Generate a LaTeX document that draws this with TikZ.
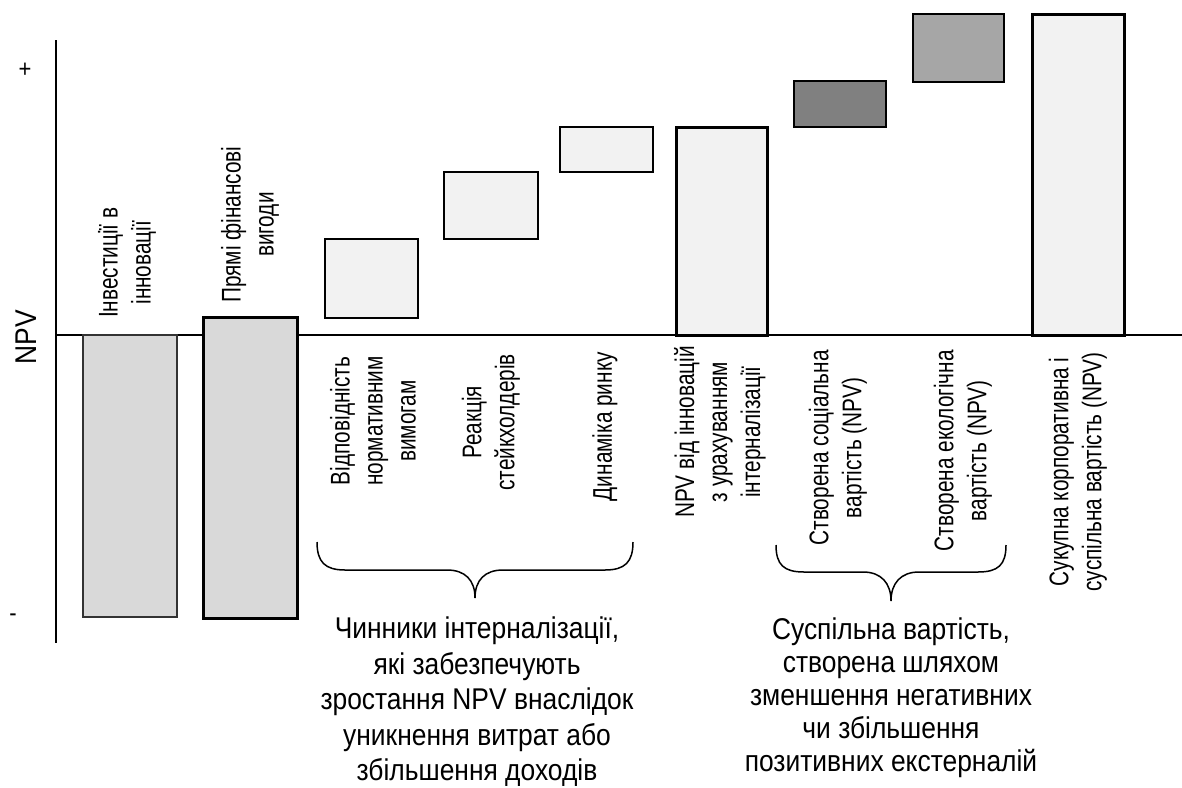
\documentclass[tikz,border=0pt]{standalone}
\usepackage{fontspec}
\setmainfont{Liberation Sans}
\newfontfamily\rotfont[FakeStretch=0.77]{Liberation Sans}
\newfontfamily\capfont[FakeStretch=0.88]{Liberation Sans}
\definecolor{barA}{HTML}{D9D9D9}
\definecolor{barB}{HTML}{F2F2F2}
\definecolor{barC}{HTML}{808080}
\definecolor{barD}{HTML}{A6A6A6}
\tikzset{
  bx/.style={draw=black, line width=1.5pt, inner sep=0pt, outer sep=0pt, anchor=north west},
  thk/.style={bx, line width=3pt},
  lbl/.style={rotate=90, align=center, inner sep=0pt, font=\rotfont\fontsize{27}{33}\selectfont},
  captext/.style={align=center, inner sep=0pt, anchor=north},
  axis/.style={line width=2pt},
  brace/.style={line width=1.5pt}
}
\begin{document}
\begin{tikzpicture}[x=1pt,y=1pt]
\useasboundingbox (0,0) rectangle (1182,-787);
% axes
\coordinate (ytop) at (56,-40);
\coordinate (ybot) at (56,-643);
\coordinate (x0) at (56,-335);
\coordinate (xend) at (1182,-335);
\draw[axis] (ytop) -- (ybot);
\draw[axis] (x0) -- (xend);
\node[font=\capfont\fontsize{25}{25}\selectfont] (plus) at (25,-70) {+};
\node[font=\capfont\fontsize{25}{25}\selectfont] (minus) at (13,-618) {-};
\node[rotate=90, font=\capfont\fontsize{30}{30}\selectfont] (npv) at (26,-337) {NPV};
% bars
\node[bx, line width=1.2pt, draw=black!80, fill=barA, minimum width=94pt, minimum height=282pt] (b1) at (83,-335) {};
\node[thk, fill=barA, minimum width=94pt, minimum height=301pt] (b2) at (203,-317) {};
\node[bx, fill=barB, minimum width=93pt, minimum height=79pt] (b3) at (325,-239) {};
\node[bx, fill=barB, minimum width=94pt, minimum height=67pt] (b4) at (444,-172) {};
\node[bx, fill=barB, minimum width=93pt, minimum height=45pt] (b5) at (560,-127) {};
\node[thk, fill=barB, minimum width=91pt, minimum height=208pt] (b6) at (676,-127) {};
\node[bx, fill=barC, minimum width=92pt, minimum height=46pt] (b7) at (794,-81) {};
\node[bx, fill=barD, minimum width=91pt, minimum height=68pt] (b8) at (913,-14) {};
\node[thk, fill=barB, minimum width=92pt, minimum height=321pt] (b9) at (1032,-14) {};
% labels above axis
\node[lbl, anchor=west] (l1) at (127,-318) {Інвестиції в\\інновації};
\node[lbl, anchor=west] (l2) at (250,-303) {Прямі фінансові\\вигоди};
% labels below axis
\node[lbl, anchor=east] (l3) at (373,-356) {Відповідність\\нормативним\\вимогам};
\node[lbl, anchor=east] (l4) at (491,-354) {Реакція\\стейкхолдерів};
\node[lbl, anchor=east] (l5) at (605,-352) {Динаміка ринку};
\node[lbl, anchor=east] (l6) at (720,-346) {NPV від інновацій\\з урахуванням\\інтерналізації};
\node[lbl, anchor=east] (l7) at (838,-350) {Створена соціальна\\вартість (NPV)};
\node[lbl, anchor=east] (l8) at (963,-350) {Створена екологічна\\вартість (NPV)};
\node[lbl, anchor=east] (l9) at (1078,-352) {Сукупна корпоративна і\\суспільна вартість (NPV)};
% braces
\coordinate (br1l) at (317,-542);
\coordinate (br1t) at (475,-598);
\coordinate (br1r) at (633,-542);
\draw[brace] (br1l) .. controls (317,-562) and (325,-570) .. (345,-570) -- (447,-570)
  .. controls (465,-570) and (475,-580) .. (br1t)
  .. controls (475,-580) and (485,-570) .. (503,-570) -- (605,-570)
  .. controls (625,-570) and (633,-562) .. (br1r);
\coordinate (br2l) at (776,-545);
\coordinate (br2t) at (891,-601);
\coordinate (br2r) at (1006,-545);
\draw[brace] (br2l) .. controls (776,-565) and (784,-572) .. (804,-572) -- (863,-572)
  .. controls (881,-572) and (891,-583) .. (br2t)
  .. controls (891,-583) and (901,-572) .. (919,-572) -- (978,-572)
  .. controls (998,-572) and (1006,-565) .. (br2r);
% captions
\node[captext, font=\capfont\fontsize{30}{35.5}\selectfont] (c1) at (477,-617) {Чинники інтерналізації,\\які забезпечують\\зростання NPV внаслідок\\уникнення витрат або\\збільшення доходів};
\node[captext, font=\capfont\fontsize{30}{33}\selectfont] (c2) at (891,-618) {Суспільна вартість,\\створена шляхом\\зменшення негативних\\чи збільшення\\позитивних екстерналій};
\end{tikzpicture}
\end{document}
